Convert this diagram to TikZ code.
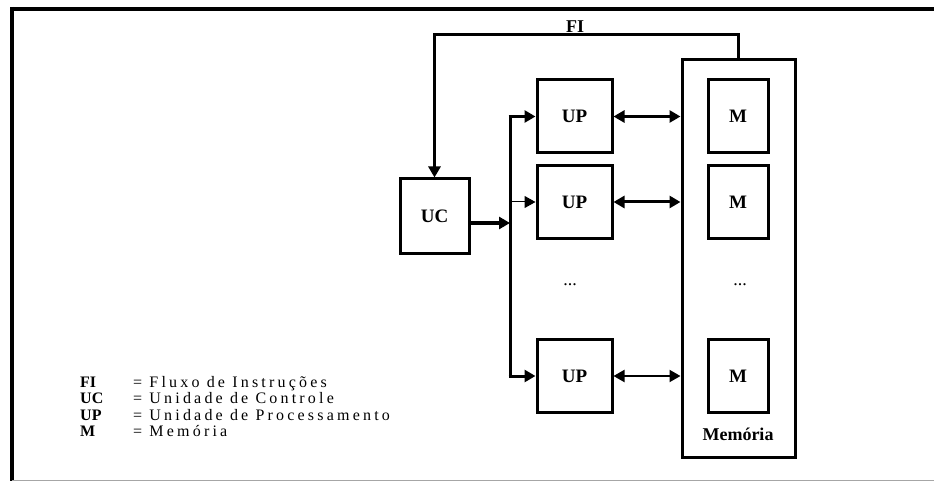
\documentclass[tikz,border=0pt]{standalone}
\usepackage{fontspec}
\setmainfont{Liberation Serif}
\usetikzlibrary{arrows.meta,calc}
\begin{document}
\begin{tikzpicture}[x=1pt,y=-1pt,
  blk/.style={draw,line width=3pt,inner sep=0pt,font=\fontsize{19}{19}\selectfont\bfseries},
  upbox/.style={blk,minimum width=75pt,minimum height=73pt},
  mbox/.style={blk,minimum width=60pt,minimum height=73pt},
  tip/.style={-{Triangle[length=11pt,width=12pt]}},
  bitip/.style={{Triangle[length=11pt,width=12pt]}-{Triangle[length=11pt,width=12pt]}},
  thickln/.style={line width=3pt},
  lbl/.style={anchor=base west,inner sep=0pt,font=\fontsize{16}{16}\selectfont},
  abbr/.style={lbl,font=\fontsize{16}{16}\selectfont\bfseries},
  dots/.style={inner sep=0pt,font=\fontsize{18}{18}\selectfont}]
\useasboundingbox (0,0) rectangle (934,481);
% frame
\draw[line width=4pt] (10,9) -- (934,9);
\draw[line width=3.5pt] (12,7) -- (12,481);
\draw[line width=1pt,gray!70] (12,480) -- (934,480);
% memory
\node[blk,minimum width=113pt,minimum height=397pt] (mem) at (738.5,258.5) {};
\node[font=\fontsize{18}{18}\selectfont\bfseries,inner sep=0pt] (memt) at (738,434) {Memória};
\node[mbox] (m1) at (738,116.5) {M};
\node[mbox] (m2) at (738,202) {M};
\node[mbox] (m3) at (738,376) {M};
\node[dots] (md) at (740,285) {...};
% UP
\node[upbox] (up1) at (574.5,116.5) {UP};
\node[upbox] (up2) at (574.5,202) {UP};
\node[upbox] (up3) at (574.5,376) {UP};
\node[dots] (ud) at (570,285) {...};
% UC
\node[blk,minimum width=69pt,minimum height=74pt] (uc) at (434.5,216) {UC};
% bus
\coordinate (bt) at (510,116.5);
\coordinate (bb) at (510,376);
\coordinate (bj) at (510,223);
\draw[thickln] ([yshift=-1.5pt]bt) -- ([yshift=1.5pt]bb);
\draw[thickln,tip] (uc.east |- bj) -- (bj);
\draw[thickln,tip] ([xshift=-1.5pt]bt) -- (up1.west);
\draw[line width=1pt,tip] (bt |- up2.west) -- (up2.west);
\draw[thickln,tip] ([xshift=-1.5pt]bb) -- (up3.west);
% UP <-> memory
\draw[thickln,bitip] (up1.east) -- (up1.east -| mem.west);
\draw[thickln,bitip] (up2.east) -- (up2.east -| mem.west);
\draw[line width=2pt,bitip] (up3.east) -- (up3.east -| mem.west);
% FI loop
\coordinate (fr) at (mem.north |- 0,35);
\draw[thickln,tip] (mem.north) -- (fr) -- (uc.north |- fr) -- (uc.north);
\node[font=\fontsize{18}{18}\selectfont\bfseries,inner sep=0pt,anchor=base] (fi) at (575,33) {FI};
% legend
\node[abbr] (l1) at (80,387) {FI};
\node[abbr] (l2) at (80,403.5) {UC};
\node[abbr] (l3) at (80,420) {UP};
\node[abbr] (l4) at (80,436.5) {M};
\node[lbl] (t1) at (133,387) {\addfontfeature{LetterSpace=20}= Fluxo de Instruções};
\node[lbl] (t2) at (133,403.5) {\addfontfeature{LetterSpace=20}= Unidade de Controle};
\node[lbl] (t3) at (133,420) {\addfontfeature{LetterSpace=20}= Unidade de Processamento};
\node[lbl] (t4) at (133,436.5) {\addfontfeature{LetterSpace=20}= Memória};
\end{tikzpicture}
\end{document}
